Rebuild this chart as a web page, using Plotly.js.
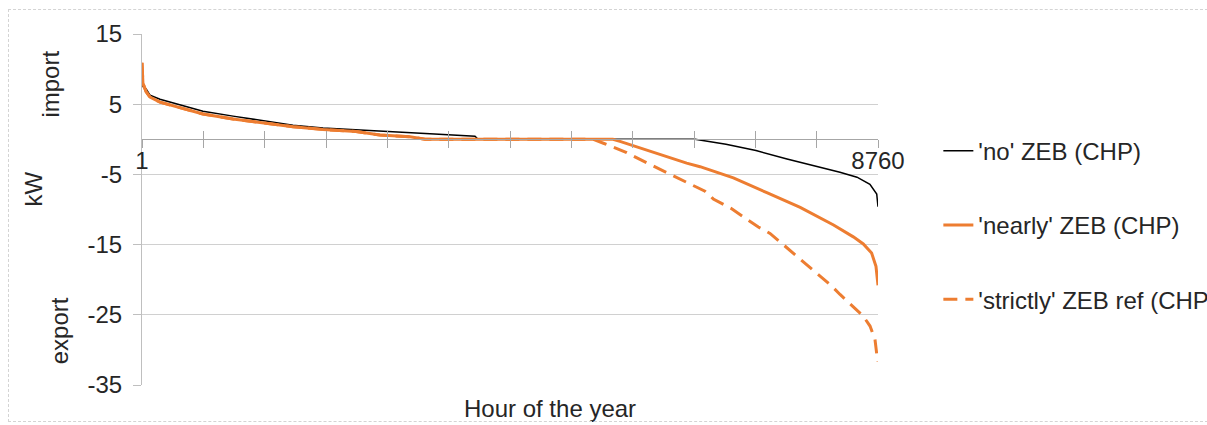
<!DOCTYPE html>
<html>
<head>
<meta charset="utf-8">
<script src="https://cdn.plot.ly/plotly-3.0.1.min.js"></script>
<style>
  html, body { margin: 0; padding: 0; background: #fff; }
  #wrap { position: relative; width: 1207px; height: 425px; }
  #chart { width: 1207px; height: 425px; }
  #frame { position: absolute; left: 8px; top: 9px; width: 1200px; height: 413px;
           border: 1px dashed #d4d4d4; pointer-events: none; box-sizing: border-box; }
</style>
</head>
<body>
<div id="wrap"><div id="chart"></div><div id="frame"></div></div>
<script>
// Hours of the year (sorted duration curve sample points)
const hoursNo = [1, 12, 49, 96, 215, 370, 727, 1084, 1441, 1798, 2155, 2548, 2929, 3428, 3666, 3964, 4000,
                 6582, 6951, 7308, 7677, 8045, 8307, 8510, 8664, 8745, 8760];
const valuesNo = [8.0, 7.5, 7.2, 6.3, 5.7, 5.2, 4.0, 3.3, 2.6, 2.0, 1.6, 1.3, 1.1, 0.8, 0.65, 0.45, 0,
                  0, -0.7, -1.6, -2.8, -3.9, -4.7, -5.4, -6.4, -7.8, -9.6];

const hoursNearly = [1, 12, 49, 96, 215, 370, 727, 1084, 1441, 1798, 2155, 2548, 2833, 3190, 3370,
                     5606, 5689, 6085, 6483, 6642, 7039, 7437, 7834, 8231, 8466, 8585, 8684, 8736, 8748, 8760];
const valuesNearly = [10.9, 8.0, 6.8, 6.0, 5.3, 4.8, 3.6, 2.9, 2.3, 1.8, 1.4, 1.1, 0.6, 0.35, 0,
                      0, -0.3, -1.9, -3.4, -3.9, -5.5, -7.6, -9.7, -12.2, -13.9, -14.9, -16.2, -18.1, -19.8, -20.8];

const hoursStrictly = [1, 12, 49, 96, 215, 370, 727, 1084, 1441, 1798, 2155, 2548, 2833, 3190, 3370,
                       5368, 5500, 5769, 6007, 6126, 6344, 6483, 6701, 6800, 7019, 7138, 7336, 7475, 7633,
                       7752, 7931, 8070, 8209, 8308, 8466, 8585, 8665, 8724, 8744, 8760];
const valuesStrictly = [10.9, 8.0, 6.8, 6.0, 5.3, 4.8, 3.6, 2.9, 2.3, 1.8, 1.4, 1.1, 0.6, 0.35, 0,
                        0, -0.6, -1.9, -3.35, -4.05, -5.25, -6.1, -7.4, -8.5, -9.9, -10.9, -12.5, -13.4, -15.0,
                        -16.2, -18.1, -19.5, -20.9, -22.1, -23.8, -25.2, -26.6, -28.5, -30.5, -31.7];

const seriesNames = ["'no' ZEB (CHP)", "'nearly' ZEB (CHP)", "'strictly' ZEB ref (CHP)"];

// Axis tick positions (monthly marks) and labels
const xTickVals = [1, 731, 1461, 2191, 2921, 3651, 4381, 5111, 5841, 6571, 7301, 8031, 8760];
const xTickText = ['1', '', '', '', '', '', '', '', '', '', '', '', '8760'];
const yTickVals = [15, 5, -5, -15, -25, -35];
const yTickText = ['15', '5', '-5', '-15', '-25', '-35'];
const xTitle = 'Hour of the year';
const yTitles = ['import', 'kW', 'export'];

const FONT = 'Liberation Sans, Arial, sans-serif';
const FS = 24;
const TXT = '#262626';
const ORANGE = '#ED7D31';

const traces = [
  { x: hoursNo, y: valuesNo, name: seriesNames[0], type: 'scatter', mode: 'lines',
    line: { color: '#000000', width: 1.5 }, legendgroup: 'a' },
  { x: hoursNearly, y: valuesNearly, name: seriesNames[1], type: 'scatter', mode: 'lines',
    line: { color: ORANGE, width: 3 }, legendgroup: 'b' },
  { x: hoursStrictly, y: valuesStrictly, name: seriesNames[2], type: 'scatter', mode: 'lines',
    line: { color: ORANGE, width: 3, dash: '14px,8px' }, legendgroup: 'c' },
  { x: [], y: [], xaxis: 'x2', showlegend: false, hoverinfo: 'skip', type: 'scatter' },
  { x: [], y: [], xaxis: 'x3', showlegend: false, hoverinfo: 'skip', type: 'scatter' }
];

const annFont = { family: FONT, size: FS, color: TXT };

const layout = {
  width: 1207, height: 425,
  margin: { l: 142, r: 329, t: 34, b: 40, autoexpand: false },
  paper_bgcolor: '#ffffff', plot_bgcolor: '#ffffff',
  font: { family: FONT, size: FS, color: TXT },
  showlegend: true,
  legend: {
    x: 1.082, xanchor: 'left', y: 0.73, yanchor: 'top',
    traceorder: 'grouped', tracegroupgap: 40,
    font: { family: FONT, size: FS, color: TXT },
    bgcolor: 'rgba(0,0,0,0)', borderwidth: 0
  },
  xaxis: {
    range: [1, 8760], showgrid: false, zeroline: false, showline: false,
    ticks: '', showticklabels: false
  },
  xaxis2: {
    overlaying: 'x', anchor: 'free', position: 0.7, range: [1, 8760],
    showgrid: false, zeroline: false, showline: true, linecolor: '#a6a6a6', linewidth: 1,
    tickmode: 'array', tickvals: xTickVals, ticktext: xTickText,
    ticks: 'outside', ticklen: 8, tickcolor: '#a6a6a6', tickwidth: 1,
    ticklabelstandoff: -8,
    tickfont: { family: FONT, size: FS, color: TXT }
  },
  xaxis3: {
    overlaying: 'x', anchor: 'free', position: 0.7, range: [1, 8760],
    showgrid: false, zeroline: false, showline: false,
    tickmode: 'array', tickvals: xTickVals, showticklabels: false,
    ticks: 'inside', ticklen: 8, tickcolor: '#a6a6a6', tickwidth: 1
  },
  yaxis: {
    range: [-35, 15], tickmode: 'array', tickvals: yTickVals, ticktext: yTickText,
    showgrid: true, gridcolor: '#d0d0d0', gridwidth: 1, zeroline: false,
    showline: true, linecolor: '#bfbfbf', linewidth: 1,
    ticks: 'outside', ticklen: 8, tickcolor: '#bfbfbf',
    ticklabelstandoff: 6,
    tickfont: { family: FONT, size: FS, color: TXT }
  },
  annotations: [
    { text: xTitle, xref: 'paper', yref: 'paper', x: 0.554, y: -0.066,
      showarrow: false, xanchor: 'center', yanchor: 'middle', font: annFont },
    { text: yTitles[0], xref: 'paper', yref: 'paper', x: -0.124, y: 0.858, textangle: -90,
      showarrow: false, xanchor: 'center', yanchor: 'middle', font: annFont },
    { text: yTitles[1], xref: 'paper', yref: 'paper', x: -0.147, y: 0.559, textangle: -90,
      showarrow: false, xanchor: 'center', yanchor: 'middle', font: annFont },
    { text: yTitles[2], xref: 'paper', yref: 'paper', x: -0.111, y: 0.154, textangle: -90,
      showarrow: false, xanchor: 'center', yanchor: 'middle', font: annFont }
  ]
};

Plotly.newPlot('chart', traces, layout, { staticPlot: true, displayModeBar: false });
</script>
</body>
</html>
